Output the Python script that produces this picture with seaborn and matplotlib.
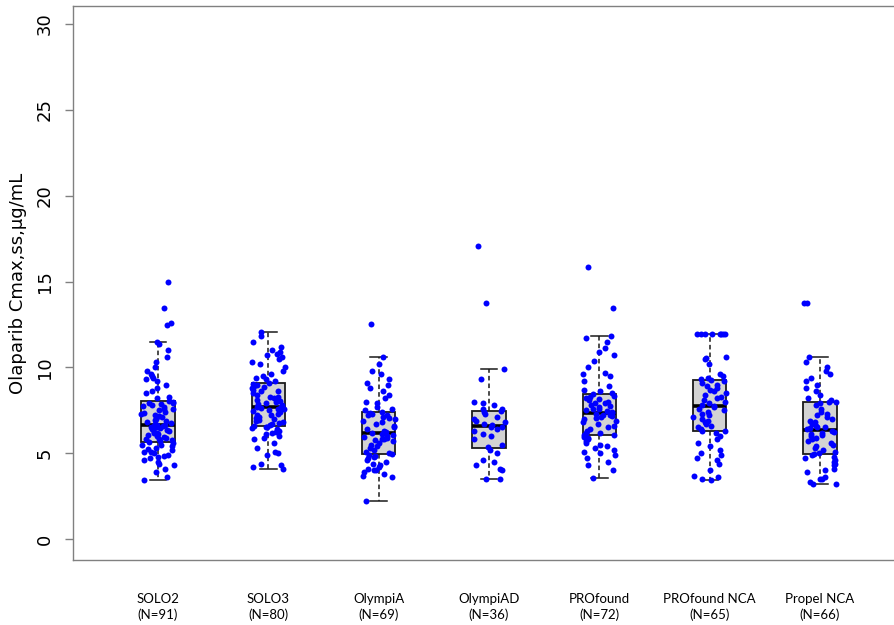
import numpy as np
import pandas as pd
import matplotlib
matplotlib.use("Agg")
import matplotlib.pyplot as plt
import seaborn as sns

studies = ["SOLO2", "SOLO3", "OlympiA", "OlympiAD", "PROfound", "PROfound NCA", "Propel NCA"]
counts = [91, 80, 69, 36, 72, 65, 66]

solo2 = [3.44, 3.6, 3.9, 4.1, 4.3, 4.4, 4.5, 4.6, 4.7, 4.8, 4.85, 4.9, 5.0, 5.05, 5.1, 5.2, 5.25, 5.3,
         5.4, 5.45, 5.5, 5.6, 5.65,
         5.7, 5.75, 5.8, 5.85, 5.9, 5.95, 6.0, 6.05, 6.1, 6.15, 6.2, 6.25, 6.3, 6.35, 6.4, 6.45, 6.5,
         6.52, 6.55, 6.58, 6.6, 6.63, 6.66,
         6.7, 6.75, 6.8, 6.9, 6.95, 7.0, 7.1, 7.15, 7.2, 7.3, 7.35, 7.4, 7.5, 7.55, 7.6, 7.7, 7.75,
         7.8, 7.85, 7.9, 7.95, 8.0,
         8.05, 8.2, 8.3, 8.5, 8.6, 8.8, 9.0, 9.2, 9.3, 9.4, 9.5, 9.6, 9.8, 10.0, 10.3, 10.6, 11.0,
         11.36, 11.49, 12.46, 12.6, 13.44, 14.95]
solo3 = [4.1, 4.2, 4.3, 4.35, 4.9, 5.0, 5.1, 5.3, 5.6, 5.8, 5.9, 6.0, 6.1, 6.2, 6.25, 6.3, 6.4, 6.45,
         6.5, 6.55,
         6.6, 6.65, 6.7, 6.75, 6.8, 6.9, 6.95, 7.0, 7.05, 7.1, 7.2, 7.25, 7.3, 7.4, 7.45, 7.5, 7.55,
         7.6, 7.65, 7.7,
         7.72, 7.8, 7.85, 7.9, 8.0, 8.05, 8.1, 8.2, 8.25, 8.3, 8.4, 8.5, 8.6, 8.65, 8.7, 8.8, 8.85,
         8.9, 9.0, 9.05,
         9.1, 9.2, 9.3, 9.4, 9.5, 9.6, 9.8, 10.0, 10.2, 10.3, 10.5, 10.6, 10.7, 10.8, 10.9, 11.0,
         11.2, 11.5, 11.8, 12.06]
olympia = [2.21, 3.6, 3.7, 3.8, 3.9, 4.0, 4.05, 4.1, 4.2, 4.3, 4.4, 4.5, 4.6, 4.7, 4.8, 4.85, 4.9,
           4.95, 5.0, 5.1, 5.2, 5.3, 5.4, 5.5, 5.6, 5.7, 5.75, 5.8, 5.85, 5.9, 5.95, 6.0, 6.05, 6.1,
           6.15,
           6.2, 6.25, 6.3, 6.4, 6.5, 6.6, 6.7, 6.8, 6.9, 7.0, 7.05, 7.1, 7.2, 7.25, 7.3, 7.35, 7.42,
           7.5, 7.6, 7.7, 7.9, 8.0, 8.2, 8.4, 8.6, 8.8, 9.0, 9.1, 9.3, 9.6, 9.8, 10.2, 10.58, 12.54]
olympiad = [3.48, 3.5, 4.05, 4.1, 4.3, 4.5, 4.6, 5.0, 5.2,
            5.35, 5.5, 5.8, 6.0, 6.1, 6.3, 6.4, 6.5, 6.55,
            6.65, 6.7, 6.8, 6.9, 7.0, 7.1, 7.3, 7.4, 7.45,
            7.55, 7.6, 7.8, 7.9, 8.0, 9.35, 9.9, 13.76, 17.08]
profound = [3.57, 4.0, 4.3, 4.5, 4.7, 4.9, 5.0, 5.1, 5.2, 5.3, 5.4, 5.5, 5.6, 5.7, 5.8, 5.9, 5.95, 6.04,
            6.07, 6.15, 6.2, 6.3, 6.4, 6.5, 6.6, 6.7, 6.8, 6.9, 7.0, 7.05, 7.1, 7.15, 7.2, 7.25, 7.3,
            7.33,
            7.35, 7.4, 7.45, 7.5, 7.55, 7.6, 7.7, 7.75, 7.8, 7.9, 7.95, 8.0, 8.1, 8.15, 8.2, 8.3, 8.35,
            8.45,
            8.5, 8.6, 8.7, 8.9, 9.2, 9.5, 9.6, 9.7, 10.0, 10.4, 10.7, 10.9, 11.1, 11.5, 11.7, 11.84,
            13.43, 15.82]
profound_nca = [3.46, 3.5, 3.6, 3.7, 4.0, 4.4, 4.6, 4.7, 4.9, 5.0, 5.2, 5.4, 5.6, 5.8, 6.0, 6.2, 6.27,
                6.3, 6.4, 6.5, 6.6, 6.7, 6.8, 6.9, 7.0, 7.1, 7.2, 7.3, 7.4, 7.5, 7.6, 7.7, 7.73,
                7.8, 7.9, 8.0, 8.1, 8.2, 8.3, 8.4, 8.5, 8.6, 8.7, 8.8, 8.9, 9.0, 9.1, 9.2, 9.24,
                9.3, 9.4, 9.5, 9.6, 10.2, 10.5, 10.55, 10.6,
                11.94, 11.94, 11.94, 11.94, 11.94, 11.94, 11.94, 11.94]
propel_nca = [3.19, 3.2, 3.3, 3.5, 3.5, 3.6, 3.9, 4.0, 4.1, 4.3, 4.4, 4.5, 4.6, 4.7, 4.8, 4.9, 4.93,
              5.0, 5.1, 5.2, 5.3, 5.4, 5.5, 5.6, 5.7, 5.8, 5.9, 6.0, 6.05, 6.1, 6.2, 6.25, 6.3,
              6.4, 6.45, 6.5, 6.55, 6.6, 6.7, 6.8, 6.9, 7.0, 7.1, 7.2, 7.3, 7.4, 7.6, 7.8, 7.9,
              7.98, 8.0, 8.1, 8.2, 8.4, 8.6, 8.8, 9.0, 9.2, 9.4, 9.6, 9.8, 10.0, 10.3, 10.62,
              13.75, 13.77]

values = [solo2, solo3, olympia, olympiad, profound, profound_nca, propel_nca]
tick_labels = [f"{s}\n(N={n})" for s, n in zip(studies, counts)]
yticks = [0, 5, 10, 15, 20, 25, 30]

df = pd.DataFrame({
    "study": np.repeat(studies, [len(v) for v in values]),
    "cmax": np.concatenate(values),
})

plt.rcParams["font.family"] = ["DejaVu Sans"]
np.random.seed(7)
fig = plt.figure(figsize=(8.95, 6.25), dpi=100)
ax = fig.add_axes([73 / 895, 1 - 560 / 625, 1 - 73 / 895, (560 - 6) / 625])

sns.boxplot(data=df, x="study", y="cmax", order=studies, ax=ax, width=0.3,
            color="#d3d3d3", linecolor="#1a1a1a", linewidth=1.3, whis=1.5,
            showfliers=False, fill=True,
            whiskerprops=dict(linestyle=(0, (3, 2)), linewidth=1.1),
            capprops=dict(linewidth=1.1),
            medianprops=dict(linewidth=2.6, color="black"))
sns.stripplot(data=df, x="study", y="cmax", order=studies, ax=ax, jitter=0.15,
              color="#0000ff", size=4.3, linewidth=0, zorder=4)

ax.set_xlim(-0.77, 6.68)
ax.set_ylim(-1.22, 31.05)
ax.set_yticks(yticks)
ax.set_yticklabels([str(t) for t in yticks], rotation=90, va="center", fontsize=13,
                   family="DejaVu Sans")
ax.set_xticks(range(len(studies)))
ax.set_xticklabels(tick_labels, fontsize=9.5, family=["Lato", "DejaVu Sans"], linespacing=1.25)
ax.tick_params(axis="x", length=0, pad=24)
ax.tick_params(axis="y", length=6, width=1, color="#808080", pad=8)
ax.set_xlabel("")
ax.set_ylabel("Olaparib Cmax,ss,µg/mL", fontsize=13, labelpad=6, family="DejaVu Sans")
for side in ["left", "bottom", "top"]:
    ax.spines[side].set_color("#808080")
    ax.spines[side].set_linewidth(1.0)
ax.spines["right"].set_visible(False)
ax.set_facecolor("white")

fig.savefig("out.png", dpi=100)
